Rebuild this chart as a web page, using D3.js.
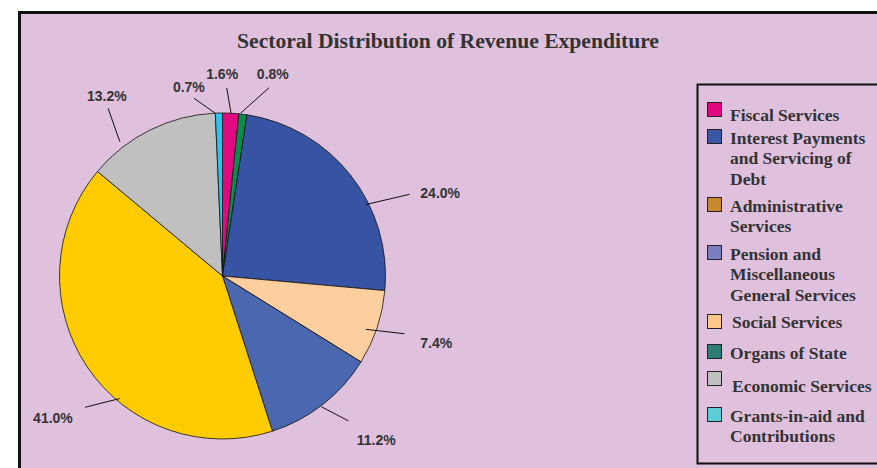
<!DOCTYPE html>
<html>
<head>
<meta charset="utf-8">
<script src="https://cdn.jsdelivr.net/npm/d3@7"></script>
<style>
  html, body { margin: 0; padding: 0; background: #ffffff; }
  svg { display: block; }
</style>
</head>
<body>
<svg id="chart" width="877" height="468"></svg>
<script>
// ---- data ----
const titleText = "Sectoral Distribution of Revenue Expenditure";
const sliceNames = ["Fiscal Services", "Organs of State", "Interest Payments and Servicing of Debt",
  "Social Services", "Pension and Miscellaneous General Services", "Other", "Economic Services",
  "Grants-in-aid and Contributions"];
const sliceValues = [1.6, 0.8, 24.0, 7.4, 11.2, 41.0, 13.2, 0.7];
const sliceLabels = ["1.6%", "0.8%", "24.0%", "7.4%", "11.2%", "41.0%", "13.2%", "0.7%"];
const sliceColors = ["#e0097f", "#0f8a4c", "#3653a4", "#fdcf9e", "#4a67b0", "#fecc00", "#c0c0c0", "#2fc4ee"];

const legendItems = [
  ["Fiscal Services"],
  ["Interest Payments", "and Servicing of", "Debt"],
  ["Administrative", "Services"],
  ["Pension and", "Miscellaneous", "General Services"],
  ["Social Services"],
  ["Organs of State"],
  ["Economic Services"],
  ["Grants-in-aid and", "Contributions"]
];
const legendColors = ["#e0087e", "#3a57a6", "#c8882e", "#7b7fc0", "#fcc88a", "#2e7c74", "#c0c0c0", "#5ccdd4"];

// ---- layout (polar label placement: [angleDeg, radius]) ----
const labelLineStart = [[3.0,163],[6.4,164],[63.5,160],[110.4,153],[142.9,164],[220.0,160],[-37.4,169],[-2.6,163]];
const labelLineEnd   = [[1.3,188],[13.9,194],[66.4,204],[107.6,191],[139.0,192],[226.3,190],[-34.3,203],[-9.1,180]];
const labelTextPos   = [[-0.1,202],[14.0,208],[69.1,233],[107.4,224],[136.9,225],[230.1,221],[-32.7,214],[-10.1,192]];
const legendGaps = [0, 27, 68, 48, 69, 30, 27, 36];
const legendTextDx = [0, 0, 0, 0, 2, 0, 2, 0];
const legendTextDy = [4, 0, 0, 0, -1, 0, 6, 0];

const W = 877, H = 468;
const cx = 222.5, cy = 276, R = 163;
const bg = "#dfc0dd";

const svg = d3.select("#chart");
svg.append("rect").attr("x", 0).attr("y", 0).attr("width", W).attr("height", H).attr("fill", "#ffffff");
svg.append("rect").attr("x", 19.5).attr("y", 12.5).attr("width", 1000).attr("height", 600)
  .attr("fill", bg).attr("stroke", "#111").attr("stroke-width", 3);

svg.append("text").attr("x", 448).attr("y", 48).attr("text-anchor", "middle")
  .attr("font-family", "'Liberation Serif', 'Times New Roman', serif").attr("font-weight", "bold")
  .attr("font-size", 21.6).attr("fill", "#333").text(titleText);

// pie
const pie = d3.pie().sort(null).value(d => d).startAngle(0).endAngle(2 * Math.PI);
const arc = d3.arc().innerRadius(0).outerRadius(R);
const arcs = pie(sliceValues);
const g = svg.append("g").attr("transform", `translate(${cx},${cy})`);
g.selectAll("path.slice").data(arcs).join("path").attr("class", "slice")
  .attr("d", arc).attr("fill", (d, i) => sliceColors[i])
  .attr("stroke", "#111").attr("stroke-width", 0.8);

const angle = d3.scaleLinear().domain([0, 360]).range([0, 2 * Math.PI]);
const polar = p => {
  const a = angle(p[0]);
  return [p[1] * Math.sin(a), -p[1] * Math.cos(a)];
};

g.selectAll("line.leader").data(arcs).join("line").attr("class", "leader")
  .attr("x1", (d, i) => polar(labelLineStart[i])[0]).attr("y1", (d, i) => polar(labelLineStart[i])[1])
  .attr("x2", (d, i) => polar(labelLineEnd[i])[0]).attr("y2", (d, i) => polar(labelLineEnd[i])[1])
  .attr("stroke", "#111").attr("stroke-width", 1);

g.selectAll("text.pct").data(arcs).join("text").attr("class", "pct")
  .attr("x", (d, i) => polar(labelTextPos[i])[0]).attr("y", (d, i) => polar(labelTextPos[i])[1])
  .attr("dy", "0.36em").attr("text-anchor", "middle")
  .attr("font-family", "'Liberation Sans', Arial, sans-serif").attr("font-weight", "bold")
  .attr("font-size", 14).attr("fill", "#333")
  .text((d, i) => sliceLabels[i]);

// legend
svg.append("rect").attr("x", 697.5).attr("y", 84.5).attr("width", 300).attr("height", 379)
  .attr("fill", "none").attr("stroke", "#111").attr("stroke-width", 2);

let rowTop = 102;
const lg = svg.append("g");
legendItems.forEach((lines, i) => {
  rowTop += legendGaps[i];
  lg.append("rect").attr("x", 707.5).attr("y", rowTop + 0.5).attr("width", 14).attr("height", 14)
    .attr("fill", legendColors[i]).attr("stroke", "#222").attr("stroke-width", 1);
  const t = lg.append("text").attr("x", 730 + legendTextDx[i]).attr("y", rowTop + 15 + legendTextDy[i])
    .attr("font-family", "'Liberation Serif', 'Times New Roman', serif").attr("font-weight", "bold")
    .attr("font-size", 17.5).attr("fill", "#333");
  lines.forEach((ln, j) => {
    t.append("tspan").attr("x", 730 + legendTextDx[i]).attr("dy", j === 0 ? 0 : 20.3).text(ln);
  });
});
</script>
</body>
</html>
